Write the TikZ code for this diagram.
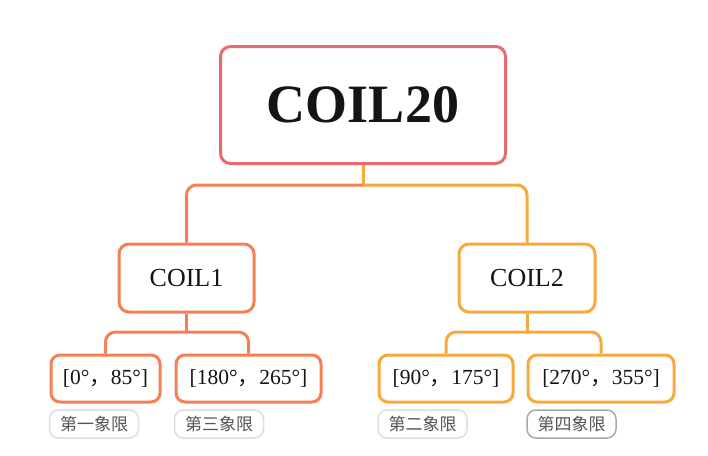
\documentclass[tikz,border=0pt]{standalone}
\usepackage{fontspec}
\setmainfont{Liberation Serif}
\newfontfamily\cjk{Noto Sans CJK SC}
\usetikzlibrary{positioning}
\definecolor{rootred}{HTML}{EA6A6E}
\definecolor{coral}{HTML}{F67F55}
\definecolor{amber}{HTML}{F9A93C}
\definecolor{tagline}{HTML}{DEDEDE}
\definecolor{tagdark}{HTML}{A8A8A8}
\definecolor{tagtext}{HTML}{555555}
\definecolor{ink}{HTML}{141414}

\begin{document}
\begin{tikzpicture}[
        x=1pt,y=-1pt,
        root/.style={draw=rootred,line width=3pt,rounded corners=10pt,fill=white,
          minimum width=285pt,minimum height=117pt,inner sep=0pt,text=ink,
          font=\fontsize{54}{60}\selectfont\bfseries},
        mid/.style={line width=3pt,rounded corners=10pt,fill=white,
          minimum width=135pt,minimum height=68pt,inner sep=0pt,text=ink,
          font=\fontsize{26}{30}\selectfont},
        leaf/.style={line width=3pt,rounded corners=9pt,fill=white,
          minimum height=47pt,inner sep=0pt,text=ink,
          font=\fontsize{21.5}{26}\selectfont},
        tag/.style={draw=tagline,line width=1.5pt,rounded corners=9pt,fill=white,
          minimum width=89pt,minimum height=28pt,inner sep=0pt,text=tagtext,
          font=\cjk\fontsize{17}{20}\selectfont},
        link/.style={line width=3pt,rounded corners=10pt}
      ]
        \fill[white] (0,0) rectangle (708,455);
        \useasboundingbox (0,0) rectangle (708,455);
        \node[root] (coil) at (363,105) {COIL20};
        \node[mid,draw=coral] (coila) at (186.5,278) {COIL1};
        \node[mid,draw=amber,minimum width=136pt] (coilb) at (527,278) {COIL2};
        \node[leaf,draw=coral,minimum width=109pt] (q1) at (105.5,378.5) {[0°{\cjk，}85°]};
        \node[leaf,draw=coral,minimum width=145pt] (q3) at (248.5,378.5) {[180°{\cjk，}265°]};
        \node[leaf,draw=amber,minimum width=134pt] (q2) at (446,378.5) {[90°{\cjk，}175°]};
        \node[leaf,draw=amber,minimum width=146pt] (q4) at (601,378.5) {[270°{\cjk，}355°]};
        \node[tag] (t1) at (94,424) {第一象限};
        \node[tag] (t3) at (219,424) {第三象限};
        \node[tag] (t2) at (422.5,424) {第二象限};
        \node[tag,draw=tagdark] (t4) at (571.5,424) {第四象限};
        % branch points
        \coordinate (j0) at (coil.south |- 0,185);
        \coordinate (ja) at (coila.south |- 0,332);
        \coordinate (jb) at (coilb.south |- 0,332);
        \draw[link,draw=amber] (coil.south) -- (j0);
        \draw[link,draw=coral] (j0) -| (coila.north);
        \draw[link,draw=amber] (j0) -| (coilb.north);
        \draw[link,draw=coral] (coila.south) -- (ja);
        \draw[link,draw=coral] (ja) -| (q1.north);
        \draw[link,draw=coral] (ja) -| (q3.north);
        \draw[link,draw=amber] (coilb.south) -- (jb);
        \draw[link,draw=amber] (jb) -| (q2.north);
        \draw[link,draw=amber] (jb) -| (q4.north);
      \end{tikzpicture}
\end{document}
